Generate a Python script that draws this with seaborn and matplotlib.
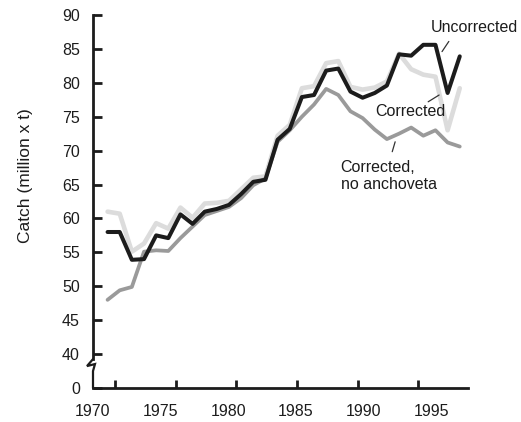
import numpy as np
import pandas as pd
import matplotlib
matplotlib.use("Agg")
import matplotlib.pyplot as plt
import matplotlib.transforms as mtransforms
import seaborn as sns

# --- data ---
years = list(range(1970, 2000))
uncorrected = [58.0, 58.0, 53.9, 54.0, 57.5, 57.1, 60.6, 59.2, 61.0, 61.4,
               62.0, 63.6, 65.4, 65.7, 71.6, 73.2, 77.9, 78.2, 81.8, 82.1,
               78.7, 77.8, 78.5, 79.6, 84.2, 84.0, 85.6, 85.6, 78.5, 83.9]
corrected = [61.0, 60.7, 55.1, 56.3, 59.3, 58.5, 61.6, 60.1, 62.2, 62.3,
             62.6, 64.3, 66.0, 66.2, 72.2, 73.8, 79.2, 79.5, 82.9, 83.2,
             79.4, 79.0, 79.3, 80.2, 84.3, 82.0, 81.2, 80.9, 73.0, 79.2]
no_anchoveta = [48.0, 49.4, 49.9, 55.1, 55.3, 55.2, 57.1, 58.8, 60.5, 61.1,
                61.7, 63.0, 64.9, 65.9, 71.3, 73.0, 75.0, 76.8, 79.1, 78.2,
                75.8, 74.8, 73.1, 71.7, 72.5, 73.4, 72.2, 73.0, 71.2, 70.6]

series_names = ["Corrected", "Corrected, no anchoveta", "Uncorrected"]
y_ticks = [35, 40, 45, 50, 55, 60, 65, 70, 75, 80, 85, 90]
y_tick_labels = ["0", "40", "45", "50", "55", "60", "65", "70", "75", "80", "85", "90"]
x_tick_labels = ["1970", "1975", "1980", "1985", "1990", "1995"]

df = pd.DataFrame({
    "year": years * 3,
    "catch": corrected + no_anchoveta + uncorrected,
    "series": [series_names[0]] * 30 + [series_names[1]] * 30 + [series_names[2]] * 30,
})

sns.set_style("white")
plt.rcParams["font.family"] = ["Liberation Sans", "DejaVu Sans"]

fig = plt.figure(figsize=(5.21, 4.22), dpi=100)
ax = fig.add_axes([0.1785, 0.0806, 0.7198, 0.8839])

styles = {
    "Corrected": ("#dcdcdc", 3.3),
    "Corrected, no anchoveta": ("#9a9a9a", 2.7),
    "Uncorrected": ("#1c1c1c", 2.9),
}
for name in series_names:
    color, lw = styles[name]
    sns.lineplot(data=df[df["series"] == name], x="year", y="catch", ax=ax,
                 color=color, linewidth=lw, sort=False, legend=False)

ax.set_xlim(1969.68, 1999.68)
ax.set_ylim(35, 90)

# spines
for s in ["top", "right"]:
    ax.spines[s].set_visible(False)
ax.spines["bottom"].set_linewidth(2)
ax.spines["bottom"].set_color("#1c1c1c")
ax.spines["left"].set_linewidth(2)
ax.spines["left"].set_color("#1c1c1c")
ax.spines["left"].set_bounds(39.26, 90)

# axis break zigzag
trans = mtransforms.blended_transform_factory(ax.transAxes, ax.transData)
ax.plot([0, -0.016, 0.0053, 0, 0], [39.26, 38.23, 38.53, 37.49, 35.0],
        color="#1c1c1c", lw=1.6, transform=trans, clip_on=False,
        solid_joinstyle="miter")

# y ticks
ax.set_yticks(y_ticks)
ax.set_yticklabels(y_tick_labels)
ax.tick_params(axis="y", direction="in", length=6.5, width=2, pad=9.5,
               labelsize=11.5, colors="#1c1c1c", left=True)

# x: tick marks and labels are slightly offset in the original
label_pos = [1968.8 + 5.57 * i for i in range(6)]
mark_pos = [1970.6 + 5 * i for i in range(6)]
ax.set_xticks(label_pos)
ax.set_xticklabels(x_tick_labels)
ax.set_xticks(mark_pos, minor=True)
ax.tick_params(axis="x", which="major", length=0, pad=11.5, labelsize=11.5,
               colors="#1c1c1c")
ax.tick_params(axis="x", which="minor", direction="in", length=6, width=2,
               color="#1c1c1c", bottom=True)

ax.set_xlabel("")
ax.set_ylabel("Catch (million x t)", fontsize=12.5, color="#1c1c1c")
ax.yaxis.set_label_coords(-0.16, 0.57)
ax.grid(False)

# labels with leader lines
txt = dict(fontsize=11.5, color="#1c1c1c")
ax.text(1996.64, 88.1, "Uncorrected", ha="left", va="center", **txt)
ax.plot([1997.54, 1998.1], [84.6, 86.1], color="#333333", lw=0.9)
ax.text(1992.08, 75.7, "Corrected", ha="left", va="center", **txt)
ax.plot([1996.4, 1997.3], [77.2, 78.2], color="#333333", lw=0.9)
ax.text(1989.2, 66.25, "Corrected,\nno anchoveta", ha="left", va="center",
        linespacing=1.15, **txt)
ax.plot([1993.44, 1993.68], [69.84, 71.3], color="#333333", lw=0.9)

fig.savefig("out.png", dpi=100)
